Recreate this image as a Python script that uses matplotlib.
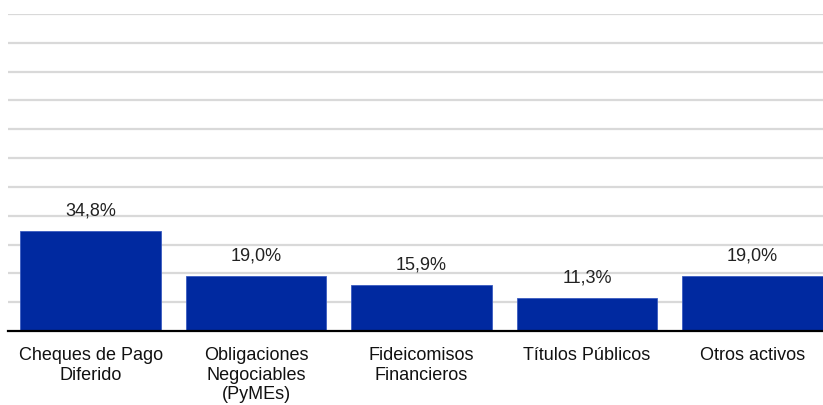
import matplotlib.pyplot as plt
import numpy as np

plt.rcParams['font.family'] = ['Liberation Sans', 'DejaVu Sans']

# categories and their share of the portfolio (%)
categories = ["Cheques de Pago\nDiferido", "Obligaciones\nNegociables\n(PyMEs)",
              "Fideicomisos\nFinancieros", "Títulos Públicos", "Otros activos"]
values = [34.8, 19.0, 15.9, 11.3, 19.0]
value_labels = ["34,8%", "19,0%", "15,9%", "11,3%", "19,0%"]

fig = plt.figure(figsize=(8.23, 4.06), dpi=100)
# plot area runs slightly past the right edge of the image
ax = fig.add_axes([8 / 823, 1 - 332 / 406, 827 / 823, 317 / 406])

x = np.arange(len(categories))
ax.bar(x, values, width=0.85, color="#0029a0", edgecolor="#3a5cc0", linewidth=0.6, zorder=3)

# value labels above each bar
for xi, v, lab in zip(x, values, value_labels):
    ax.annotate(lab, (xi, v), xytext=(0, 9), textcoords="offset points",
                ha="center", va="bottom", fontsize=13, color="#222222")

ax.set_xlim(-0.5, len(categories) - 0.5)
ax.set_ylim(0, 110)
ax.set_yticks(np.arange(10, 111, 10))
ax.yaxis.grid(True, color="#d9d9d9", linewidth=1.6, zorder=0)
ax.tick_params(axis="y", left=False, labelleft=False)

ax.set_xticks(x)
ax.set_xticklabels(categories, fontsize=13, color="#111111", linespacing=1.2)
ax.tick_params(axis="x", length=0, pad=11)

for side in ["top", "right", "left"]:
    ax.spines[side].set_visible(False)
ax.spines["bottom"].set_color("black")
ax.spines["bottom"].set_linewidth(1.6)
ax.spines["bottom"].set_zorder(4)

fig.savefig("out.png", dpi=100)
